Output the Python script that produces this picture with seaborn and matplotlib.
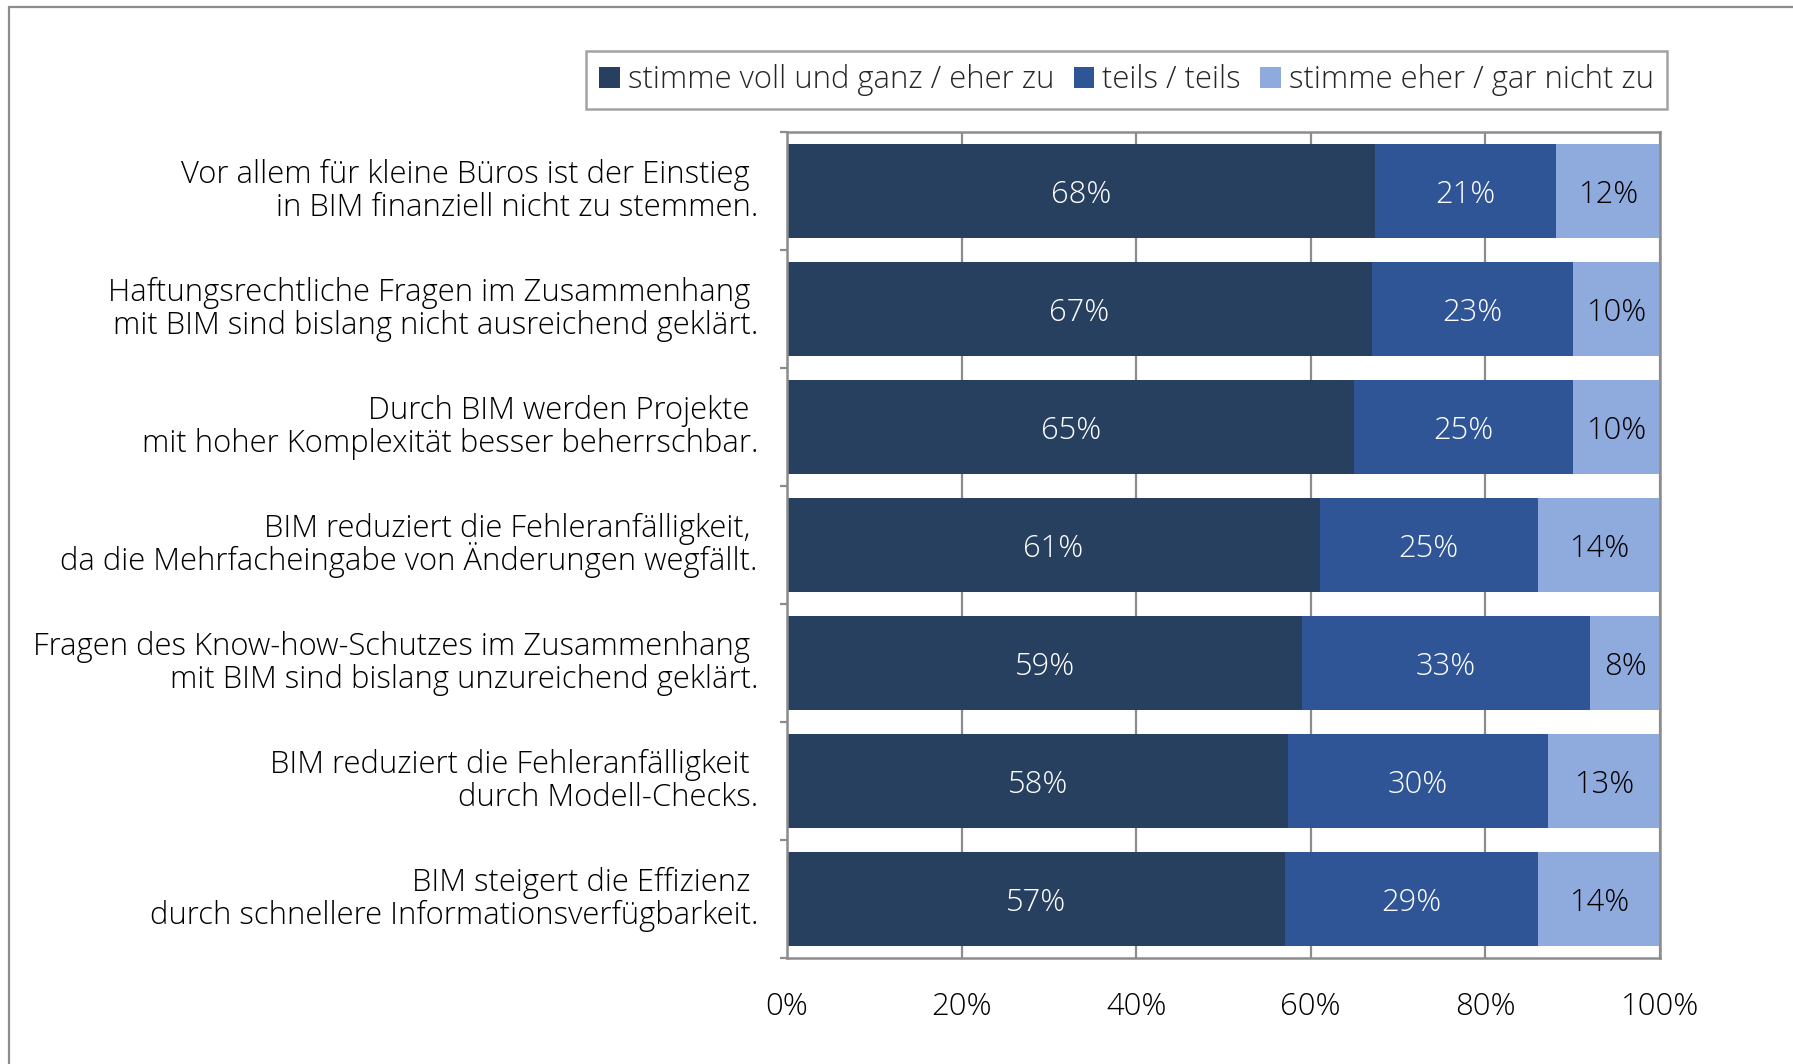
import numpy as np
import pandas as pd
import matplotlib
matplotlib.use("Agg")
import matplotlib.pyplot as plt
import matplotlib.transforms as mtransforms
import seaborn as sns
from matplotlib.lines import Line2D
from matplotlib.patches import Patch
from matplotlib.ticker import FixedLocator, FuncFormatter

# Survey statements, each split over two lines, and answer shares in percent
statement_lines = [
    ("Vor allem für kleine Büros ist der Einstieg ", "in BIM finanziell nicht zu stemmen."),
    ("Haftungsrechtliche Fragen im Zusammenhang ", "mit BIM sind bislang nicht ausreichend geklärt."),
    ("Durch BIM werden Projekte ", "mit hoher Komplexität besser beherrschbar."),
    ("BIM reduziert die Fehleranfälligkeit, ", "da die Mehrfacheingabe von Änderungen wegfällt."),
    ("Fragen des Know-how-Schutzes im Zusammenhang ", "mit BIM sind bislang unzureichend geklärt."),
    ("BIM reduziert die Fehleranfälligkeit ", "durch Modell-Checks."),
    ("BIM steigert die Effizienz ", "durch schnellere Informationsverfügbarkeit."),
]
agree = [68, 67, 65, 61, 59, 58, 57]
neutral = [21, 23, 25, 25, 33, 30, 29]
disagree = [12, 10, 10, 14, 8, 13, 14]

series_names = ["stimme voll und ganz / eher zu", "teils / teils", "stimme eher / gar nicht zu"]
colors = ["#27405F", "#2F5597", "#8FAADC"]
label_colors = ["white", "white", "black"]
x_ticks = [0, 20, 40, 60, 80, 100]

sns.set_theme(style="white")
plt.rcParams["font.family"] = ["Open Sans", "DejaVu Sans"]

FS = 22.3       # category labels, legend, axis ticks
FS_VAL = 22.2   # values inside the bars
WEIGHT = 300
GRAY = "#8C8C8C"

statements = [a + "\n" + b for a, b in statement_lines]
df = pd.DataFrame({"statement": statements,
                   series_names[0]: agree,
                   series_names[1]: neutral,
                   series_names[2]: disagree})
values = df[series_names]
# 100 % stacked: each row scaled to its own total
share = values.div(values.sum(axis=1), axis=0) * 100
cum = share.cumsum(axis=1)

fig = plt.figure(figsize=(17.93, 10.64), dpi=100)
ax = fig.add_axes([787 / 1793, 1 - 958 / 1064, (1660 - 787) / 1793, (958 - 132) / 1064])

# stacked bars: longest cumulative segment first, shorter ones drawn over it
for name, color in reversed(list(zip(series_names, colors))):
    plot_df = pd.DataFrame({"statement": df["statement"], "value": cum[name]})
    sns.barplot(data=plot_df, x="value", y="statement", orient="h", color=color,
                saturation=1, width=0.8, ax=ax, linewidth=0)

# value labels centered in each segment
for i in range(len(df)):
    for j, name in enumerate(series_names):
        center = cum[name].iloc[i] - share[name].iloc[i] / 2
        ax.text(center, i, f"{values[name].iloc[i]}%", ha="center", va="center_baseline",
                color=label_colors[j], fontsize=FS_VAL, fontweight=WEIGHT)

ax.set_xlim(0, 100)
ax.set_ylim(len(df) - 0.5, -0.5)
ax.xaxis.set_major_locator(FixedLocator(x_ticks))
ax.xaxis.set_major_formatter(FuncFormatter(lambda v, p: f"{v:.0f}%"))
ax.set_axisbelow(True)
ax.xaxis.grid(True, color=GRAY, linewidth=1.6)
ax.yaxis.grid(False)
ax.set_xlabel("")
ax.set_ylabel("")

ax.tick_params(axis="x", length=0, pad=23.5, labelsize=FS, labelcolor="black")
for lbl in ax.get_xticklabels():
    lbl.set_fontweight(WEIGHT)

# category labels: two right-aligned lines per bar with even line spacing
ax.set_yticks(range(len(df)))
ax.set_yticklabels([""] * len(df))
ax.tick_params(axis="y", which="major", length=0)
ax.yaxis.set_minor_locator(FixedLocator(np.arange(-0.5, len(df), 1.0)))
ax.tick_params(axis="y", which="minor", left=True, length=5, width=1.6, color=GRAY, direction="out")
base = mtransforms.blended_transform_factory(ax.transAxes, ax.transData)
px = 72 / fig.dpi
for i, (l1, l2) in enumerate(statement_lines):
    for line, dy in ((l1, 8.0), (l2, -25.0)):
        tr = mtransforms.offset_copy(base, fig=fig, x=-29 * px, y=dy * px, units="points")
        ax.text(0, i, line, transform=tr, ha="right", va="baseline",
                fontsize=FS, fontweight=WEIGHT, color="black")

for spine in ax.spines.values():
    spine.set_visible(True)
    spine.set_color(GRAY)
    spine.set_linewidth(1.8)

handles = [Patch(facecolor=c, edgecolor="none") for c in colors]
leg = fig.legend(handles, series_names, loc="upper right", ncol=3,
                 bbox_to_anchor=(1667 / 1793, 1 - 51 / 1064),
                 prop={"size": FS, "weight": WEIGHT}, frameon=True, fancybox=False, shadow=False,
                 handlelength=0.66, handleheight=0.66, handletextpad=0.27,
                 columnspacing=0.62, borderpad=0.42, borderaxespad=0)
leg.get_frame().set_edgecolor(GRAY)
leg.get_frame().set_linewidth(1.8)

# outer chart frame
fig.add_artist(Line2D([9 / 1793, 9 / 1793], [0, 1 - 7 / 1064], transform=fig.transFigure,
                      color=GRAY, linewidth=1.6))
fig.add_artist(Line2D([9 / 1793, 1], [1 - 7 / 1064, 1 - 7 / 1064], transform=fig.transFigure,
                      color=GRAY, linewidth=1.6))

fig.savefig("out.png", dpi=100, facecolor="white")
